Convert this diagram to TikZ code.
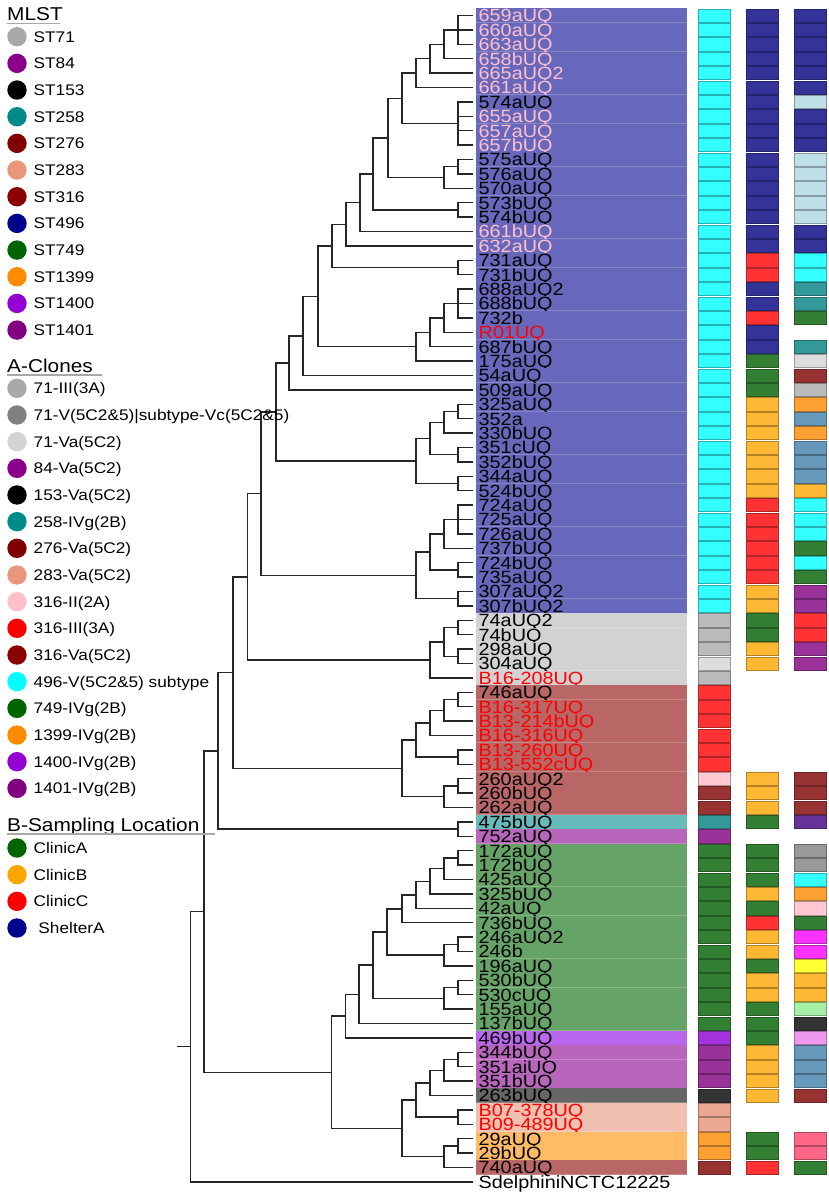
\documentclass[tikz,border=0pt]{standalone}
\usepackage{fontspec}
\setmainfont{Liberation Sans}[FakeStretch=1.12]

% tree, label backgrounds and strips
\definecolor{treeline}{HTML}{262626}
\definecolor{rulegray}{HTML}{A8A8A8}
\definecolor{pk}{HTML}{FFC0CB}
\definecolor{bA}{HTML}{6767BB}
\definecolor{bB}{HTML}{D2D2D2}
\definecolor{bC}{HTML}{B86666}
\definecolor{bD}{HTML}{66BBBB}
\definecolor{bE}{HTML}{B866BB}
\definecolor{bF}{HTML}{66A366}
\definecolor{bG}{HTML}{BB66EE}
\definecolor{bH}{HTML}{666666}
\definecolor{bI}{HTML}{F0C0B0}
\definecolor{bJ}{HTML}{FFBB66}
\definecolor{cy}{HTML}{33FFFF}
\definecolor{nv}{HTML}{333399}
\definecolor{lb}{HTML}{BFDFE8}
\definecolor{rd}{HTML}{FF3333}
\definecolor{tl}{HTML}{339999}
\definecolor{gn}{HTML}{337F33}
\definecolor{lg}{HTML}{DDDDDD}
\definecolor{dr}{HTML}{993333}
\definecolor{gy}{HTML}{BBBBBB}
\definecolor{gm}{HTML}{999999}
\definecolor{yo}{HTML}{FFB833}
\definecolor{or}{HTML}{FFA033}
\definecolor{sb}{HTML}{6699BB}
\definecolor{pu}{HTML}{993399}
\definecolor{bp}{HTML}{663399}
\definecolor{pi}{HTML}{FFC8D2}
\definecolor{vi}{HTML}{A333DD}
\definecolor{dk}{HTML}{333333}
\definecolor{sa}{HTML}{EBA893}
\definecolor{mg}{HTML}{FF33FF}
\definecolor{ye}{HTML}{FFFF33}
\definecolor{lgn}{HTML}{A6F0A6}
\definecolor{lv}{HTML}{EE99EE}
\definecolor{rp}{HTML}{FF6688}
% legend
\definecolor{k71}{HTML}{A9A9A9}
\definecolor{k71v}{HTML}{808080}
\definecolor{k71a}{HTML}{D3D3D3}
\definecolor{k84}{HTML}{8B008B}
\definecolor{k153}{HTML}{000000}
\definecolor{k258}{HTML}{008B8B}
\definecolor{k276}{HTML}{800000}
\definecolor{k283}{HTML}{E9967A}
\definecolor{k316}{HTML}{8B0000}
\definecolor{k496}{HTML}{00008B}
\definecolor{k749}{HTML}{006400}
\definecolor{k1399}{HTML}{FF8C00}
\definecolor{k1400}{HTML}{9400D3}
\definecolor{k1401}{HTML}{800080}
\definecolor{kII}{HTML}{FFC0CB}
\definecolor{kIII}{HTML}{FF0000}
\definecolor{kcy}{HTML}{00FFFF}
\definecolor{kB}{HTML}{FFA500}

\tikzset{
  branch/.style={draw=treeline, line width=1.4pt},
  leaf/.style={anchor=west, inner sep=0pt, font=\fontsize{17.7}{18}\selectfont, text height=12.7pt, text depth=0pt},
  key/.style={anchor=west, inner sep=0pt, font=\fontsize{15.4}{16}\selectfont, text height=11pt, text depth=0pt},
  keyhead/.style={anchor=west, inner sep=0pt, font=\fontsize{18.6}{19}\selectfont, text height=13.3pt, text depth=0pt},
  dot/.style={circle, inner sep=0pt, minimum size=19.4pt},
  cell/.style={fill=#1, draw=#1!70!black, line width=.7pt},
  keyrule/.style={draw=rulegray, line width=1.4pt}
}
\def\nocol{no}
\newcommand{\clade}[4]{\coordinate (#1) at (#2,#3);
  \foreach \kid in {#4} {\draw[branch] (#1) |- (\kid);}}

\begin{document}
\begin{tikzpicture}[x=1pt, y=-1pt]
\useasboundingbox (0,0) rectangle (829,1195);

% leaves: label, background, three strips
\foreach \n/\lab/\tc/\bg/\ca/\cb/\cc in {1/659aUQ/pk/bA/cy/nv/nv,
2/660aUQ/pk/bA/cy/nv/nv,
3/663aUQ/pk/bA/cy/nv/nv,
4/658bUQ/pk/bA/cy/nv/nv,
5/665aUQ2/pk/bA/cy/nv/nv,
6/661aUQ/pk/bA/cy/nv/nv,
7/574aUQ/black/bA/cy/nv/lb,
8/655aUQ/pk/bA/cy/nv/nv,
9/657aUQ/pk/bA/cy/nv/nv,
10/657bUQ/pk/bA/cy/nv/nv,
11/575aUQ/black/bA/cy/nv/lb,
12/576aUQ/black/bA/cy/nv/lb,
13/570aUQ/black/bA/cy/nv/lb,
14/573bUQ/black/bA/cy/nv/lb,
15/574bUQ/black/bA/cy/nv/lb,
16/661bUQ/pk/bA/cy/nv/nv,
17/632aUQ/pk/bA/cy/nv/nv,
18/731aUQ/black/bA/cy/rd/cy,
19/731bUQ/black/bA/cy/rd/cy,
20/688aUQ2/black/bA/cy/nv/tl,
21/688bUQ/black/bA/cy/nv/tl,
22/732b/black/bA/cy/rd/gn,
23/R01UQ/red/bA/cy/nv/no,
24/687bUQ/black/bA/cy/nv/tl,
25/175aUQ/black/bA/cy/gn/lg,
26/54aUQ/black/bA/cy/gn/dr,
27/509aUQ/black/bA/cy/gn/gy,
28/325aUQ/black/bA/cy/yo/or,
29/352a/black/bA/cy/yo/sb,
30/330bUQ/black/bA/cy/yo/or,
31/351cUQ/black/bA/cy/yo/sb,
32/352bUQ/black/bA/cy/yo/sb,
33/344aUQ/black/bA/cy/yo/sb,
34/524bUQ/black/bA/cy/yo/yo,
35/724aUQ/black/bA/cy/rd/cy,
36/725aUQ/black/bA/cy/rd/cy,
37/726aUQ/black/bA/cy/rd/cy,
38/737bUQ/black/bA/cy/rd/gn,
39/724bUQ/black/bA/cy/rd/cy,
40/735aUQ/black/bA/cy/rd/gn,
41/307aUQ2/black/bA/cy/yo/pu,
42/307bUQ2/black/bA/cy/yo/pu,
43/74aUQ2/black/bB/gy/gn/rd,
44/74bUQ/black/bB/gy/gn/rd,
45/298aUQ/black/bB/gy/yo/pu,
46/304aUQ/black/bB/lg/yo/pu,
47/B16-208UQ/red/bB/gy/no/no,
48/746aUQ/black/bC/rd/no/no,
49/B16-317UQ/red/bC/rd/no/no,
50/B13-214bUQ/red/bC/rd/no/no,
51/B16-316UQ/red/bC/rd/no/no,
52/B13-260UQ/red/bC/rd/no/no,
53/B13-552cUQ/red/bC/rd/no/no,
54/260aUQ2/black/bC/pi/yo/dr,
55/260bUQ/black/bC/dr/yo/dr,
56/262aUQ/black/bC/dr/yo/dr,
57/475bUQ/black/bD/tl/gn/bp,
58/752aUQ/black/bE/pu/no/no,
59/172aUQ/black/bF/gn/gn/gm,
60/172bUQ/black/bF/gn/gn/gm,
61/425aUQ/black/bF/gn/gn/cy,
62/325bUQ/black/bF/gn/yo/or,
63/42aUQ/black/bF/gn/gn/pi,
64/736bUQ/black/bF/gn/rd/gn,
65/246aUQ2/black/bF/gn/yo/mg,
66/246b/black/bF/gn/yo/mg,
67/196aUQ/black/bF/gn/gn/ye,
68/530bUQ/black/bF/gn/yo/yo,
69/530cUQ/black/bF/gn/yo/yo,
70/155aUQ/black/bF/gn/gn/lgn,
71/137bUQ/black/bF/gn/gn/dk,
72/469bUQ/black/bG/vi/gn/lv,
73/344bUQ/black/bE/pu/yo/sb,
74/351aiUQ/black/bE/pu/yo/sb,
75/351bUQ/black/bE/pu/yo/sb,
76/263bUQ/black/bH/dk/yo/dr,
77/B07-378UQ/red/bI/sa/no/no,
78/B09-489UQ/red/bI/sa/no/no,
79/29aUQ/black/bJ/or/gn/rp,
80/29bUQ/black/bJ/or/gn/rp,
81/740aUQ/black/bC/dr/rd/gn}{
  \pgfmathtruncatemacro{\k}{\n}
  \pgfmathsetmacro{\ry}{15.5+14.4*(\k-1)}
  \fill[\bg] (476,{\ry-7.2}) rectangle (687,{\ry+7.2});
  \draw[white, opacity=.22, line width=.5pt] (476,{\ry+7.2}) -- (687,{\ry+7.2});
  \node[leaf, text=\tc] (l\k) at (478.5,\ry) {\lab};
  \coordinate (t\k) at (473,\ry);
  \ifx\ca\nocol\else \draw[cell=\ca] (698.3,{\ry-6.6}) rectangle (730,{\ry+6.6}); \fi
  \ifx\cb\nocol\else \draw[cell=\cb] (746.7,{\ry-6.6}) rectangle (778.3,{\ry+6.6}); \fi
  \ifx\cc\nocol\else \draw[cell=\cc] (794.3,{\ry-6.6}) rectangle (826.7,{\ry+6.6}); \fi
}
\node[leaf] (l82) at (478.5,1181.9) {SdelphiniNCTC12225};
\coordinate (t82) at (473,1181.9);

% tree
\clade{a1}{458}{29.9}{t1,t2,t3}
\clade{a2}{444}{44.3}{a1,t4}
\clade{a3}{430}{58.7}{a2,t5}
\clade{a4}{416}{73.1}{a3,t6}
\clade{a5}{458}{123.5}{t7,t8,t9,t10}
\clade{a6}{402}{98.3}{a4,a5}
\clade{a7}{458}{166.7}{t11,t12}
\clade{a8}{444}{177.5}{a7,t13}
\clade{a9}{388}{137.9}{a6,a8}
\clade{a10}{458}{209.9}{t14,t15}
\clade{a11}{373}{173.9}{a9,a10}
\clade{a12}{360}{202.7}{a11,t16}
\clade{a13}{346}{224.3}{a12,t17}
\clade{a14}{458}{267.5}{t18,t19}
\clade{a15}{332}{245.9}{a13,a14}
\clade{b1}{458}{303.5}{t20,t21,t22}
\clade{b2}{444}{317.9}{b1,t23}
\clade{b3}{430}{332.3}{b2,t24}
\clade{b4}{416}{346.7}{b3,t25}
\clade{a16}{318}{296.3}{a15,b4}
\clade{a17}{303}{335.9}{a16,t26}
\clade{a18}{289}{362.9}{a17,t27}
\clade{c1}{458}{411.5}{t28,t29}
\clade{c2}{444}{422.3}{c1,t30}
\clade{c3}{458}{454.7}{t31,t32}
\clade{c4}{430}{438.5}{c2,c3}
\clade{c5}{458}{483.5}{t33,t34}
\clade{c6}{416}{461}{c4,c5}
\clade{a19}{276}{412}{a18,c6}
\clade{d1}{458}{519.5}{t35,t36,t37}
\clade{d2}{444}{533.9}{d1,t38}
\clade{d3}{458}{569.9}{t39,t40}
\clade{d4}{430}{551.9}{d2,d3}
\clade{d5}{458}{598.7}{t41,t42}
\clade{d6}{416}{575.3}{d4,d5}
\clade{a20}{261}{493.6}{a19,d6}
\clade{e1}{458}{627.5}{t43,t44}
\clade{e2}{458}{656.3}{t45,t46}
\clade{e3}{444}{641.9}{e1,e2}
\clade{e4}{430}{659.9}{e3,t47}
\clade{a21}{247.5}{576.8}{a20,e4}
\clade{f1}{458}{699.5}{t48,t49}
\clade{f2}{444}{710.3}{f1,t50}
\clade{f3}{430}{722.9}{f2,t51}
\clade{f4}{458}{757.1}{t52,t53}
\clade{f5}{416}{740}{f3,f4}
\clade{f6}{458}{785.9}{t54,t55}
\clade{f7}{444}{796.7}{f6,t56}
\clade{f8}{402}{768.4}{f5,f7}
\clade{a22}{233}{672.6}{a21,f8}
\clade{g1}{458}{829.1}{t57,t58}
\clade{a23}{218}{750.8}{a22,g1}
\clade{h1}{458}{857.9}{t59,t60}
\clade{h2}{444}{868.7}{h1,t61}
\clade{h3}{430}{881.3}{h2,t62}
\clade{h4}{416}{894.8}{h3,t63}
\clade{h5}{402}{908.8}{h4,t64}
\clade{h6}{458}{944.3}{t65,t66}
\clade{h7}{444}{955.1}{h6,t67}
\clade{h8}{387}{931.9}{h5,h7}
\clade{h9}{458}{987.5}{t68,t69}
\clade{h10}{444}{998.3}{h9,t70}
\clade{h11}{373}{965.1}{h8,h10}
\clade{h12}{359}{994.3}{h11,t71}
\clade{h13}{345.5}{1016.1}{h12,t72}
\clade{i1}{458}{1059.5}{t73,t74}
\clade{i2}{444}{1070.3}{i1,t75}
\clade{i3}{430}{1082.9}{i2,t76}
\clade{i4}{458}{1117.1}{t77,t78}
\clade{i5}{416}{1100}{i3,i4}
\clade{i6}{458}{1145.9}{t79,t80}
\clade{i7}{444}{1156.7}{i6,t81}
\clade{i8}{402}{1128.4}{i5,i7}
\clade{h14}{331.5}{1072.2}{h13,i8}
\clade{a24}{204}{911.5}{a23,h14}
\clade{root}{190.5}{1046.7}{a24,t82}
\coordinate (stub) at (176.5,1046.7);
\draw[branch] (stub) -- (root);

% legend
\node[keyhead] (mlst) at (7,13.7) {MLST};
\draw[keyrule] (7,23.3) -- (60,23.3);
\foreach \i/\lab/\col in {0/ST71/k71,1/ST84/k84,2/ST153/k153,3/ST258/k258,4/ST276/k276,5/ST283/k283,6/ST316/k316,7/ST496/k496,8/ST749/k749,9/ST1399/k1399,10/ST1400/k1400,11/ST1401/k1401}{
  \node[dot, fill=\col] (md\i) at (17,{36.7+26.67*\i}) {};
  \node[key] (mt\i) at (33.5,{36.7+26.67*\i}) {\lab};
}
\node[keyhead] (clones) at (7,366) {A-Clones};
\draw[keyrule] (7,375) -- (102,375);
\foreach \i/\lab/\col in {0/71-III(3A)/k71,1/71-V(5C2\&5)|subtype-Vc(5C2\&5)/k71v,2/71-Va(5C2)/k71a,3/84-Va(5C2)/k84,4/153-Va(5C2)/k153,5/258-IVg(2B)/k258,6/276-Va(5C2)/k276,7/283-Va(5C2)/k283,8/316-II(2A)/kII,9/316-III(3A)/kIII,10/316-Va(5C2)/k316,11/496-V(5C2\&5) subtype/kcy,12/749-IVg(2B)/k749,13/1399-IVg(2B)/k1399,14/1400-IVg(2B)/k1400,15/1401-IVg(2B)/k1401}{
  \node[dot, fill=\col] (cd\i) at (17,{388.3+26.67*\i}) {};
  \node[key] (ct\i) at (33.5,{388.3+26.67*\i}) {\lab};
}
\node[keyhead] (site) at (7,825) {B-Sampling Location};
\draw[keyrule] (7,834) -- (215,834);
\foreach \i/\lab/\col in {0/ClinicA/k749,1/ClinicB/kB,2/ClinicC/kIII,3/\ ShelterA/k496}{
  \node[dot, fill=\col] (sd\i) at (17,{848+26.67*\i}) {};
  \node[key] (st\i) at (33.5,{848+26.67*\i}) {\lab};
}
\end{tikzpicture}
\end{document}
